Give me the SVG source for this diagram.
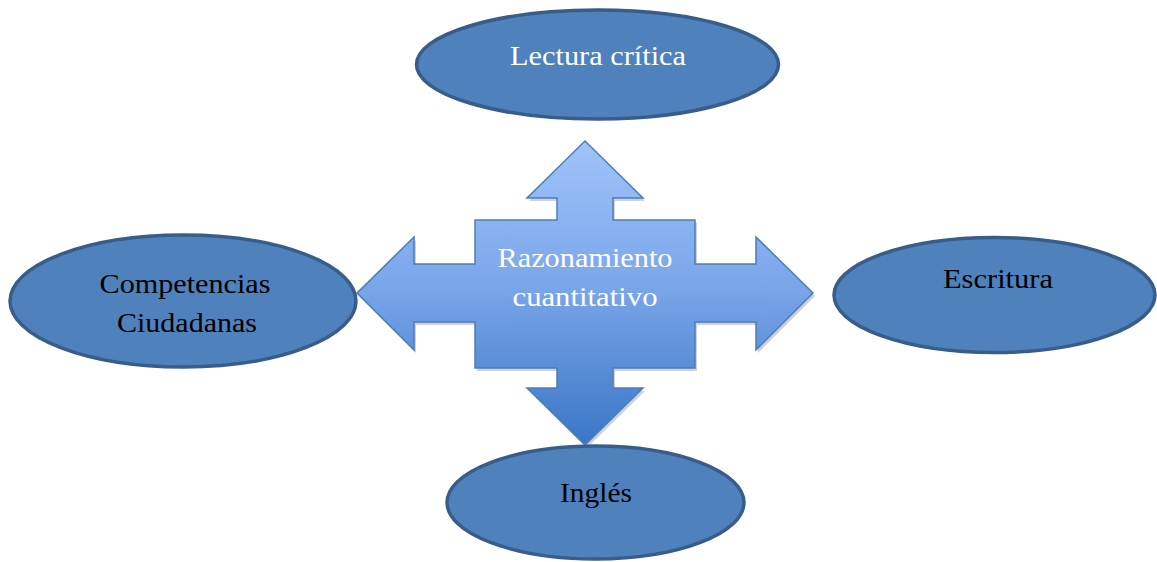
<svg xmlns="http://www.w3.org/2000/svg" width="1157" height="562" viewBox="0 0 1157 562">
<defs>
<linearGradient id="g" x1="0" y1="141" x2="0" y2="445" gradientUnits="userSpaceOnUse">
<stop offset="0" stop-color="#A0C4FA"/>
<stop offset="0.5" stop-color="#78A4E8"/>
<stop offset="1" stop-color="#3A76C6"/>
</linearGradient>
<style>
.ell{fill:#4F81BD;stroke:#385D8A;stroke-width:3.5}
.t{font-family:"Liberation Serif","DejaVu Serif",serif;font-size:28px;text-anchor:middle}
.dark{fill:#000}
.light{fill:#fff}
</style>
</defs>
<rect width="1157" height="562" fill="#fff"/>
<g id="connectors">
<polygon points="587,144 645,201 615,201 615,223 697,223 697,267 758,267 758,240 815,296 758,353 758,325 697,325 697,371 615,371 615,391 645,391 587,448 529,391 559,391 559,371 477,371 477,325 416,325 416,353 359,296 416,240 416,267 477,267 477,223 559,223 559,201 529,201" fill="#000" opacity="0.18"/>
<polygon id="cross" points="585,141 643,198 613,198 613,220 695,220 695,264 756,264 756,237 813,293 756,350 756,322 695,322 695,368 613,368 613,388 643,388 585,445 527,388 557,388 557,368 475,368 475,322 414,322 414,350 357,293 414,237 414,264 475,264 475,220 557,220 557,198 527,198" fill="url(#g)" stroke="#4A7EBB" stroke-width="1.5"/>
</g>
<g id="center">
<text class="t light" x="585" y="267" textLength="175" lengthAdjust="spacingAndGlyphs">Razonamiento</text>
<text class="t light" x="585" y="306" textLength="145" lengthAdjust="spacingAndGlyphs">cuantitativo</text>
</g>
<g id="lectura">
<ellipse class="ell" cx="597.5" cy="64.5" rx="181" ry="54.5"/>
<text class="t light" x="598" y="65" textLength="176" lengthAdjust="spacingAndGlyphs">Lectura crítica</text>
</g>
<g id="competencias">
<ellipse class="ell" cx="183" cy="301" rx="173" ry="66"/>
<text class="t dark" x="185" y="293" textLength="171" lengthAdjust="spacingAndGlyphs">Competencias</text>
<text class="t dark" x="187" y="332" textLength="140" lengthAdjust="spacingAndGlyphs">Ciudadanas</text>
</g>
<g id="escritura">
<ellipse class="ell" cx="994.5" cy="295" rx="160.5" ry="57.5"/>
<text class="t dark" x="998" y="288" textLength="110" lengthAdjust="spacingAndGlyphs">Escritura</text>
</g>
<g id="ingles">
<ellipse class="ell" cx="595.5" cy="502.5" rx="148.5" ry="56.5"/>
<text class="t dark" x="596" y="502" textLength="72" lengthAdjust="spacingAndGlyphs">Inglés</text>
</g>
</svg>
